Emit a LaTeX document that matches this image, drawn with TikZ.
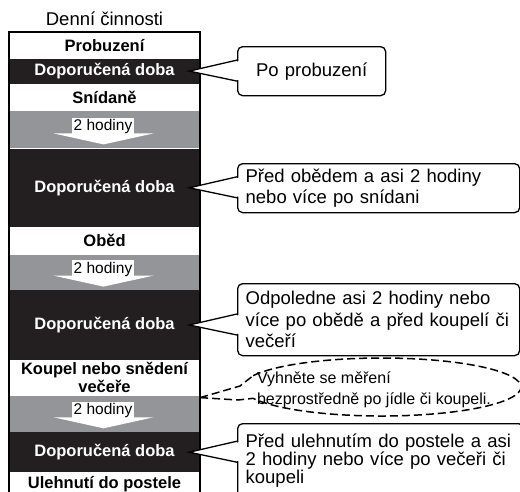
\documentclass[tikz,border=0pt]{standalone}
\usepackage{fontspec}
\setmainfont{Liberation Sans}
\usetikzlibrary{positioning, calc}
\definecolor{BandBlack}{RGB}{35, 31, 32}
\definecolor{BandGray}{RGB}{147, 149, 152}
\tikzset{
    bandbox/.style={
        rectangle,
        inner sep=0pt,
        minimum width=191pt,
        align=center,
        font=\fontsize{16.5}{18}\selectfont\bfseries
    },
    daybox/.style={bandbox, fill=white, text=black},
    timebox/.style={bandbox, fill=BandBlack, text=white},
    gapbox/.style={bandbox, fill=BandGray},
    hourlabel/.style={
        rectangle,
        fill=white,
        inner sep=1.5pt,
        font=\fontsize{15.5}{15.5}\selectfont
    },
    colborder/.style={draw=black, line width=1.5pt},
    % Callout Styles
    callout/.style={
        rectangle,
        rounded corners=5pt,
        draw=black,
        fill=white,
        line width=1.3pt,
        anchor=north west,
        align=left,
        inner xsep=8pt,
        inner ysep=0pt,
        font=\fontsize{18.5}{21.5}\selectfont
    },
    pointer/.style={draw=black, line width=1.3pt},
    dashline/.style={draw=black, line width=1.5pt, dash pattern=on 8pt off 4pt},
    warntext/.style={align=left, inner sep=0pt, font=\fontsize{16}{21}\selectfont},
}

\begin{document}
\begin{tikzpicture}[x=1pt, y=-1pt]
    \useasboundingbox (0,0) rectangle (520,491);
    \clip (0,0) rectangle (520,491);

    \node[daybox, anchor=north, minimum height=26pt] (wake) at (104.5,32) {Probuzení};
    \node[timebox, below=0pt of wake, minimum height=25pt] (rec1) {Doporučená doba};
    \node[daybox, below=0pt of rec1, minimum height=27pt] (breakfast) {Snídaně};
    \node[gapbox, below=0pt of breakfast, minimum height=37pt] (gap1) {};
    \node[timebox, below=0pt of gap1, minimum height=78pt] (rec2) {Doporučená doba};
    \node[daybox, below=0pt of rec2, minimum height=27pt] (lunch) {Oběd};
    \node[gapbox, below=0pt of lunch, minimum height=35pt] (gap2) {};
    \node[timebox, below=0pt of gap2, minimum height=70pt] (rec3) {Doporučená doba};
    \node[daybox, below=0pt of rec3, minimum height=35pt] (dinner) {Koupel nebo snědení\\večeře};
    \node[gapbox, below=0pt of dinner, minimum height=36pt] (gap3) {};
    \node[timebox, below=0pt of gap3, minimum height=40pt] (rec4) {Doporučená doba};
    \node[daybox, below=0pt of rec4, minimum height=23pt] (bed) {Ulehnutí do postele};
    \node[above=6pt of wake, inner sep=0pt, font=\fontsize{18.5}{18.5}\selectfont] (title) {Denní činnosti};

    \foreach \g in {gap1, gap2, gap3} {
        \fill[white] ($(\g.center)+(-51,3.5)$) -- ($(\g.center)+(49,3.5)$) -- ($(\g.center)+(-1,14.5)$) -- cycle;
        \node[hourlabel] (\g-hours) at ($(\g.center)+(-1.5,-3)$) {2 hodiny};
    }

    \draw[colborder] ($(bed.south west)+(0,5)$) |- (wake.north east) -- ($(bed.south east)+(0,5)$);

    \node[callout, align=center, text width=132pt, minimum height=49pt] (wakenote) at (237,46) {Po probuzení};
    \node[callout, text width=266pt, minimum height=49pt] (breakfastnote) at (237,163) {Před obědem a asi 2 hodiny\\nebo více po snídani};
    \node[callout, text width=266pt, minimum height=72pt] (lunchnote) at (237,283) {Odpoledne asi 2 hodiny nebo\\více po obědě a před koupelí či\\večeří};
    \node[callout, text width=270pt, minimum height=74pt, font=\fontsize{18.5}{18}\selectfont] (bednote) at (237,423) {Před ulehnutím do postele a asi\\2 hodiny nebo více po večeři či\\koupeli};

    \foreach \r/\n in {rec1/wakenote, rec2/breakfastnote, rec3/lunchnote, rec4/bednote} {
        \coordinate (\n-tip) at ($(\r.east)+(-11,0)$);
        \fill[white] ($(\n.west |- \n-tip)+(2,-10)$) -- (\n-tip) -- ($(\n.west |- \n-tip)+(2,9)$) -- cycle;
        \draw[pointer] ($(\n.west |- \n-tip)+(0,-11)$) -- (\n-tip) -- ($(\n.west |- \n-tip)+(0,10)$);
    }

    % dashed warning bubble
    \coordinate (warncenter) at (381.5,387);
    \coordinate (warnup) at ($(warncenter)+(157:139.5pt and 29pt)$);
    \coordinate (warnlow) at ($(warncenter)+(-157:139.5pt and 29pt)$);
    \coordinate (warntip) at ($(gap3.north east)+(0,2)$);
    \draw[dashline] (warnup) arc[start angle=157, end angle=-157, x radius=139.5pt, y radius=29pt];
    \draw[dashline] (warntip) -- (240,386) -- (warnup);
    \draw[dashline] (warntip) -- (238,400) -- (warnlow);
    \node[warntext] (warn) at (374,390) {Vyhněte se měření\\bezprostředně po jídle či koupeli.};
\end{tikzpicture}
\end{document}
